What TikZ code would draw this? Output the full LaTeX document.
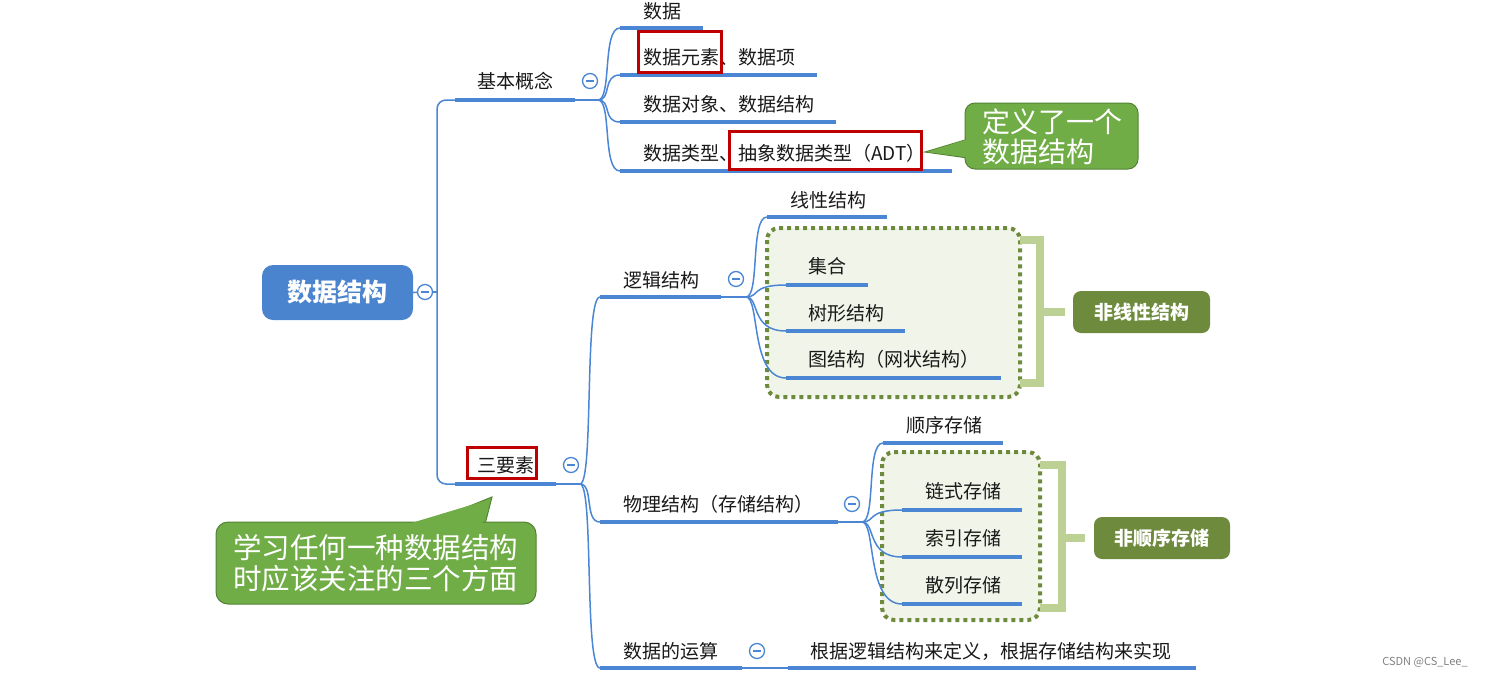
\documentclass[tikz,border=0pt]{standalone}
\usepackage{fontspec}
\setmainfont{Noto Sans CJK SC}
\usetikzlibrary{calc}
\definecolor{bl}{HTML}{4A86D4}
\definecolor{rootbl}{HTML}{4A84CE}
\definecolor{rd}{HTML}{C00000}
\definecolor{gr}{HTML}{70AD47}
\definecolor{grd}{HTML}{548235}
\definecolor{ol}{HTML}{6E8B3D}
\definecolor{olf}{HTML}{F1F5E9}
\definecolor{brk}{HTML}{BDD195}
\begin{document}
\begin{tikzpicture}[x=1pt,y=-1pt,
  lbl/.style={anchor=west, inner sep=0pt, font=\fontsize{19}{21}\selectfont, text=black!90},
  uline/.style={bl, line width=4pt},
  thinl/.style={bl, line width=1.5pt},
  branch/.style={bl, line width=1.5pt, to path={.. controls ($(\tikztostart)+(14,0)$) and ($(\tikztostart|-\tikztotarget)+(4,0)$) .. (\tikztotarget)}},
  circ/.style={circle, draw=bl, fill=white, line width=1.3pt, minimum size=15pt, inner sep=0pt,
    path picture={\draw[bl,line width=1.3pt] ($(path picture bounding box.center)+(-4,0)$) -- ($(path picture bounding box.center)+(4,0)$);}},
  redbox/.style={draw=rd, line width=3pt},
  dotbox/.style={draw=ol, fill=olf, line width=4pt, dash pattern=on 4pt off 4pt, rounded corners=12pt},
  brack/.style={draw=brk, line width=8pt},
  obox/.style={fill=ol, rounded corners=8pt, text=white, font=\bfseries\fontsize{19}{21}\selectfont},
  callout/.style={fill=gr, draw=grd, line width=1pt},
  ctext/.style={anchor=west, inner sep=0pt, align=left, text=white}
]
\useasboundingbox (0,0) rectangle (1497,678);

% dotted group boxes
\draw[dotbox] (767,228) rectangle (1020,397);
\draw[dotbox] (882,452) rectangle (1040,620);

% brackets
\draw[brack] (1020,240) -- (1040,240) -- (1040,383) -- (1020,383);
\draw[brack] (1040,312) -- (1065,312);
\draw[brack] (1040,465) -- (1062,465) -- (1062,608) -- (1040,608);
\draw[brack] (1062,538) -- (1085,538);

% coordinates
\coordinate (tr) at (437,292);
\coordinate (jb-s) at (455,100); \coordinate (jb-e) at (575,100); \coordinate (jb-o) at (598,100);
\coordinate (c1-s) at (620,28);  \coordinate (c1-e) at (703,28);
\coordinate (c2-s) at (620,75);  \coordinate (c2-e) at (817,75);
\coordinate (c3-s) at (620,122); \coordinate (c3-e) at (836,122);
\coordinate (c4-s) at (620,171); \coordinate (c4-e) at (952,171);
\coordinate (sy-s) at (455,484); \coordinate (sy-e) at (556,484); \coordinate (sy-o) at (580,484);
\coordinate (lj-s) at (600,297); \coordinate (lj-e) at (721,297); \coordinate (lj-o) at (746,297);
\coordinate (xx-s) at (767,217); \coordinate (xx-e) at (887,217);
\coordinate (jh-s) at (786,285); \coordinate (jh-e) at (868,285);
\coordinate (sx-s) at (786,331); \coordinate (sx-e) at (905,331);
\coordinate (tj-s) at (786,378); \coordinate (tj-e) at (1001,378);
\coordinate (wl-s) at (600,522); \coordinate (wl-e) at (838,522); \coordinate (wl-o) at (862,522);
\coordinate (sc-s) at (883,443); \coordinate (sc-e) at (1003,443);
\coordinate (ls-s) at (902,510); \coordinate (ls-e) at (1022,510);
\coordinate (sy2-s) at (902,557); \coordinate (sy2-e) at (1022,557);
\coordinate (sl-s) at (902,604); \coordinate (sl-e) at (1022,604);
\coordinate (ys-s) at (600,668); \coordinate (ys-e) at (742,668);
\coordinate (gs-s) at (788,668); \coordinate (gs-e) at (1196,668);

% root
\node[rectangle, rounded corners=11pt, fill=rootbl, minimum width=151pt, minimum height=55pt,
  text=white, font=\bfseries\fontsize{25}{27}\selectfont] (root) at (337.5,292.5) {数据结构};
\node[circ] (rc) at (425,292) {};
\draw[thinl] (root.east) -- (rc);
\draw[thinl] (rc) -- (tr);
\draw[thinl, rounded corners=9pt] (tr) |- (jb-s);
\draw[thinl, rounded corners=9pt] (tr) |- (sy-s);

% underlines
\foreach \n in {jb,c1,c2,c3,c4,sy,lj,xx,jh,sx,tj,wl,sc,ls,sy2,sl,ys,gs}
  \draw[uline] (\n-s) -- (\n-e);

% thin continuations
\draw[thinl] (jb-e) -- (jb-o);
\draw[thinl] (sy-e) -- (sy-o);
\draw[thinl] (lj-e) -- (lj-o);
\draw[thinl] (wl-e) -- (wl-o);
\draw[thinl] (ys-e) -- (gs-s);

% branches
\foreach \c in {c1,c2,c3,c4} \draw[branch] (jb-o) to (\c-s);
\foreach \c in {lj,wl,ys} \draw[branch] (sy-o) to (\c-s);
\foreach \c in {xx,jh,sx,tj} \draw[branch] (lj-o) to (\c-s);
\foreach \c in {sc,ls,sy2,sl} \draw[branch] (wl-o) to (\c-s);

% collapse circles
\node[circ] (jb-c) at (590,81) {};
\node[circ] (sy-c) at (571,465) {};
\node[circ] (lj-c) at (736,279) {};
\node[circ] (wl-c) at (852,504) {};
\node[circ] (ys-c) at (757,651) {};

% labels
\node[lbl] (jb) at (477,81) {基本概念};
\node[lbl] (c1) at (643,11) {数据};
\node[lbl] (c2) at (643,57) {数据元素、数据项};
\node[lbl] (c3) at (643,104) {数据对象、数据结构};
\node[lbl] (c4) at (643,153) {数据类型、抽象数据类型（ADT）};
\node[lbl] (sy) at (477,465) {三要素};
\node[lbl] (lj) at (623,280) {逻辑结构};
\node[lbl] (xx) at (790,200) {线性结构};
\node[lbl] (jh) at (808,266) {集合};
\node[lbl] (sx) at (808,313) {树形结构};
\node[lbl] (tj) at (808,359) {图结构（网状结构）};
\node[lbl] (wl) at (623,504) {物理结构（存储结构）};
\node[lbl] (sc) at (906,425) {顺序存储};
\node[lbl] (ls) at (925,491) {链式存储};
\node[lbl] (sy2) at (925,538) {索引存储};
\node[lbl] (sl) at (925,585) {散列存储};
\node[lbl] (ys) at (623,651) {数据的运算};
\node[lbl] (gs) at (810,651) {根据逻辑结构来定义，根据存储结构来实现};

% red highlight boxes
\draw[redbox] (638,31) rectangle (721,72);
\draw[redbox] (729,131) rectangle (921,169);
\draw[redbox] (467,447) rectangle (536,478);

% olive summary boxes
\node[obox, minimum width=137pt, minimum height=42pt] (fx) at (1141.5,312) {非线性结构};
\node[obox, minimum width=136pt, minimum height=42pt] (fs) at (1162,538) {非顺序存储};

% callout: 定义了一个数据结构
\draw[callout] (925,152) -- (975,137) -- (975,159) -- cycle;
\draw[callout, rounded corners=10pt] (965,103) rectangle (1138,169);
\fill[gr] (926.5,152) -- (967,139.5) -- (967,157) -- cycle;
\node[ctext, font=\fontsize{28}{30}\selectfont] (co1) at (982,137) {定义了一个\\数据结构};

% callout: 学习任何一种数据结构时应该关注的三个方面
\draw[callout] (492,497) -- (405,532) -- (483,532) -- cycle;
\draw[callout, rounded corners=12pt] (216,522) rectangle (536,604);
\fill[gr] (491,499) -- (408,524) -- (482,524) -- cycle;
\node[ctext, font=\fontsize{28.5}{31}\selectfont] (co2) at (233,563.5) {学习任何一种数据结构\\时应该关注的三个方面};

% watermark
\node[text=gray, font=\fontsize{11}{12}\selectfont, inner sep=0pt] (wm) at (1425,662) {CSDN @CS\_Lee\_};
\end{tikzpicture}
\end{document}
